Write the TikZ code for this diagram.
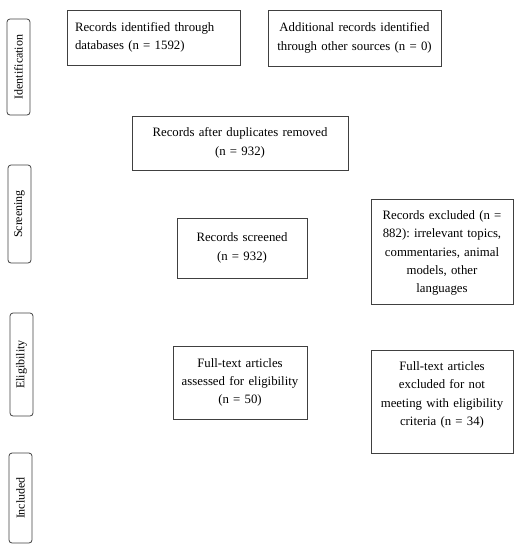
\documentclass[tikz,border=0pt]{standalone}
\usepackage{fontspec}
\setmainfont{Liberation Serif}
\frenchspacing
\begin{document}
\begin{tikzpicture}[x=1pt,y=-1pt,
  box/.style={draw=black!75, line width=0.8pt, inner sep=0pt, align=center,
    font=\fontsize{12.8}{18.3}\selectfont, text=black},
  txt/.style={inner sep=0pt, align=center, font=\fontsize{12.8}{18.3}\selectfont, text=black},
  phase/.style={draw=black!75, line width=0.8pt, rounded corners=3pt, inner sep=0pt,
    minimum width=23},
  phasetext/.style={rotate=90, inner sep=0pt, font=\fontsize{12}{14}\selectfont, text=black}]
\useasboundingbox (0,0) rectangle (528,550);
% phase labels
\node[phase, minimum height=96] (idp) at (18.5,67) {};
\node[phasetext] (idt) at (idp.center) {Identification};
\node[phase, minimum height=98] (scp) at (19.5,214) {};
\node[phasetext] (sct) at (scp.center) {Screening};
\node[phase, minimum height=103] (elp) at (21.5,364.5) {};
\node[phasetext] (elt) at (elp.center) {Eligibility};
\node[phase, minimum height=90] (inp) at (20.5,498) {};
\node[phasetext] (int) at (inp.center) {Included};
% boxes
\node[box, minimum width=173, minimum height=55] (db) at (153.5,37.5) {};
\node[txt, align=left, text width=157] (dbt) at (db.center) {Records identified through\\databases (n = 1592)};
\node[box, minimum width=173, minimum height=56, text width=173] (oth) at (354.5,38) {Additional records identified\\through other sources (n = 0)};
\node[box, minimum width=216, minimum height=54, text width=216] (dup) at (240,143) {Records after duplicates removed\\(n = 932)};
\node[box, minimum width=130, minimum height=60, text width=130] (scr) at (242,248) {Records screened\\(n = 932)};
\node[box, minimum width=142, minimum height=105] (exc) at (442,251.5) {};
\node[txt, text width=142] (exct) at (442,253) {Records excluded (n =\\882): irrelevant topics,\\commentaries, animal\\models, other\\languages};
\node[box, minimum width=134, minimum height=73, text width=134] (ft) at (240,382.5) {Full-text articles\\assessed for eligibility\\(n = 50)};
\node[box, minimum width=142, minimum height=103] (fte) at (442,401.5) {};
\node[txt, text width=142] (ftet) at (442,395) {Full-text articles\\excluded for not\\meeting with eligibility\\criteria (n = 34)};
\end{tikzpicture}
\end{document}
